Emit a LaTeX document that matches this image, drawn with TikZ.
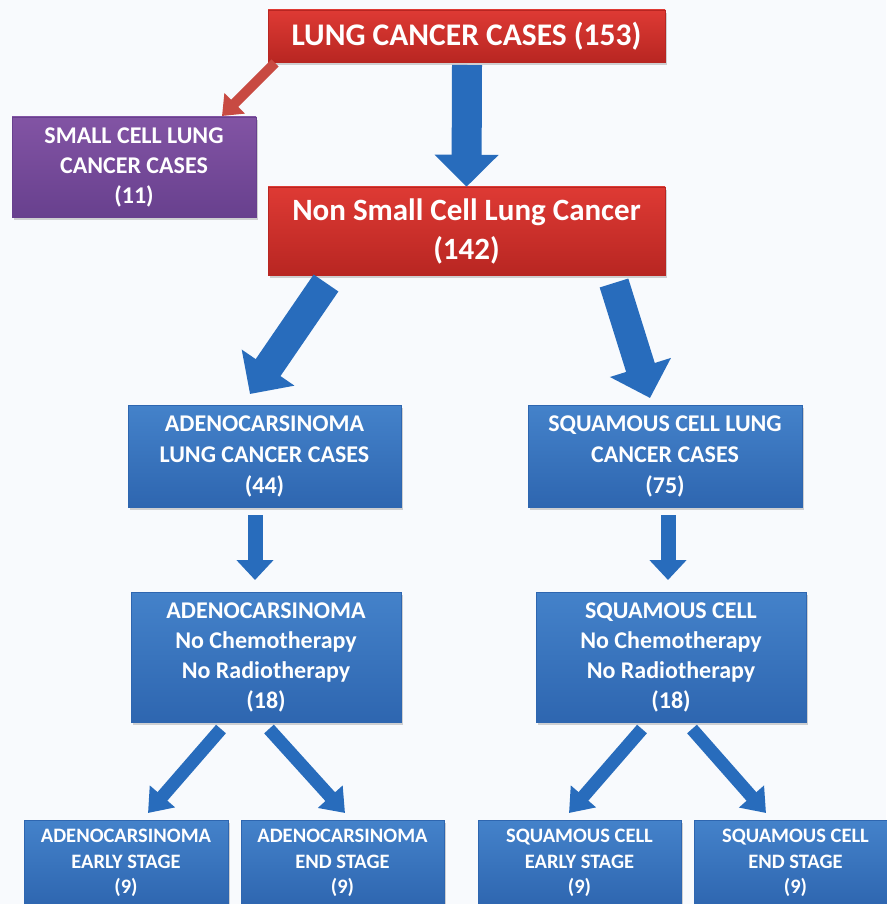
\documentclass[tikz,border=0pt]{standalone}
\usepackage{fontspec}
\setmainfont{Carlito}
\usetikzlibrary{arrows.meta,shadows}

\definecolor{boxred}{RGB}{222,58,52}
\definecolor{darkred}{RGB}{184,38,34}
\definecolor{boxpurple}{RGB}{130,84,164}
\definecolor{darkpurple}{RGB}{104,64,142}
\definecolor{boxblue}{RGB}{68,130,202}
\definecolor{darkblue}{RGB}{46,102,176}
\definecolor{arrowblue}{RGB}{40,108,188}
\definecolor{arrowred}{RGB}{200,74,66}
\definecolor{bg}{RGB}{248,250,253}

\tikzset{
	box/.style={text=white, font=\bfseries, align=center, inner sep=0pt,
		drop shadow={shadow xshift=2pt, shadow yshift=-3pt, opacity=.35}},
	redbox/.style={box, top color=boxred, bottom color=darkred, draw=darkred},
	purplebox/.style={box, top color=boxpurple, bottom color=darkpurple, draw=darkpurple},
	bluebox/.style={box, top color=boxblue, bottom color=darkblue, draw=darkblue},
	bigarrow/.style={arrowblue, line width=30pt, -{Triangle[length=32pt, width=62pt]}},
	midarrow/.style={arrowblue, line width=15pt, -{Triangle[length=20pt, width=36pt]}},
	smallarrow/.style={arrowblue, line width=13pt, -{Triangle[length=22pt, width=32pt]}},
	redarrow/.style={arrowred, line width=10pt, -{Triangle[length=18pt, width=28pt]}},
}

\begin{document}
\begin{tikzpicture}[x=1pt, y=-1pt]
	\path[use as bounding box, fill=bg] (0,0) rectangle (886,904);

	% red and purple boxes
	\node[redbox, minimum width=397, minimum height=52, font=\bfseries\fontsize{31.5}{36}\selectfont]
		(total) at (466.5,36) {LUNG CANCER CASES (153)};
	\node[purplebox, minimum width=244, minimum height=100, font=\bfseries\fontsize{24}{30}\selectfont]
		(small) at (134,167) {SMALL CELL LUNG\\CANCER CASES\\(11)};
	\node[redbox, minimum width=397, minimum height=88, font=\bfseries\fontsize{31}{39}\selectfont]
		(nsclc) at (466.5,231) {Non Small Cell Lung Cancer\\(142)};

	% blue boxes
	\node[bluebox, minimum width=273, minimum height=102, font=\bfseries\fontsize{24}{31}\selectfont]
		(adeno) at (264.5,456) {ADENOCARSINOMA\\LUNG CANCER CASES\\(44)};
	\node[bluebox, minimum width=274, minimum height=102, font=\bfseries\fontsize{24}{31}\selectfont]
		(squam) at (665,456) {SQUAMOUS CELL LUNG\\CANCER CASES\\(75)};
	\node[bluebox, minimum width=270, minimum height=130, font=\bfseries\fontsize{24}{30}\selectfont]
		(adenoNo) at (266,657) {ADENOCARSINOMA\\No Chemotherapy\\No Radiotherapy\\(18)};
	\node[bluebox, minimum width=270, minimum height=130, font=\bfseries\fontsize{24}{30}\selectfont]
		(squamNo) at (671,657) {SQUAMOUS CELL\\No Chemotherapy\\No Radiotherapy\\(18)};

	\node[bluebox, minimum width=204, minimum height=86, font=\bfseries\fontsize{20.5}{25.5}\selectfont]
		(adenoEarly) at (126,863) {ADENOCARSINOMA\\EARLY STAGE\\(9)};
	\node[bluebox, minimum width=203, minimum height=86, font=\bfseries\fontsize{20.5}{25.5}\selectfont]
		(adenoEnd) at (342.5,863) {ADENOCARSINOMA\\END STAGE\\(9)};
	\node[bluebox, minimum width=203, minimum height=86, font=\bfseries\fontsize{20.5}{25.5}\selectfont]
		(squamEarly) at (579.5,863) {SQUAMOUS CELL\\EARLY STAGE\\(9)};
	\node[bluebox, minimum width=203, minimum height=86, font=\bfseries\fontsize{20.5}{25.5}\selectfont]
		(squamEnd) at (795.5,863) {SQUAMOUS CELL\\END STAGE\\(9)};

	% arrow ends
	\coordinate (r1) at (275,63);
	\coordinate (r2) at (222,116);
	\coordinate (t1) at (467,65);
	\coordinate (a1) at (326,283);
	\coordinate (a2) at (250,394);
	\coordinate (b1) at (614,283);
	\coordinate (b2) at (650,398);
	\coordinate (c1) at (255,515);
	\coordinate (c2) at (255,580);
	\coordinate (d1) at (668,515);
	\coordinate (d2) at (668,580);
	\coordinate (e1) at (221,729);
	\coordinate (e2) at (148,813);
	\coordinate (f1) at (269,729);
	\coordinate (f2) at (345,813);
	\coordinate (g1) at (642,729);
	\coordinate (g2) at (569,813);
	\coordinate (h1) at (692,729);
	\coordinate (h2) at (766,813);

	\draw[redarrow] (r1) -- (r2);
	\draw[bigarrow] (t1) -- (nsclc.north);
	\draw[bigarrow] (a1) -- (a2);
	\draw[bigarrow] (b1) -- (b2);
	\draw[midarrow] (c1) -- (c2);
	\draw[midarrow] (d1) -- (d2);
	\draw[smallarrow] (e1) -- (e2);
	\draw[smallarrow] (f1) -- (f2);
	\draw[smallarrow] (g1) -- (g2);
	\draw[smallarrow] (h1) -- (h2);
\end{tikzpicture}
\end{document}
